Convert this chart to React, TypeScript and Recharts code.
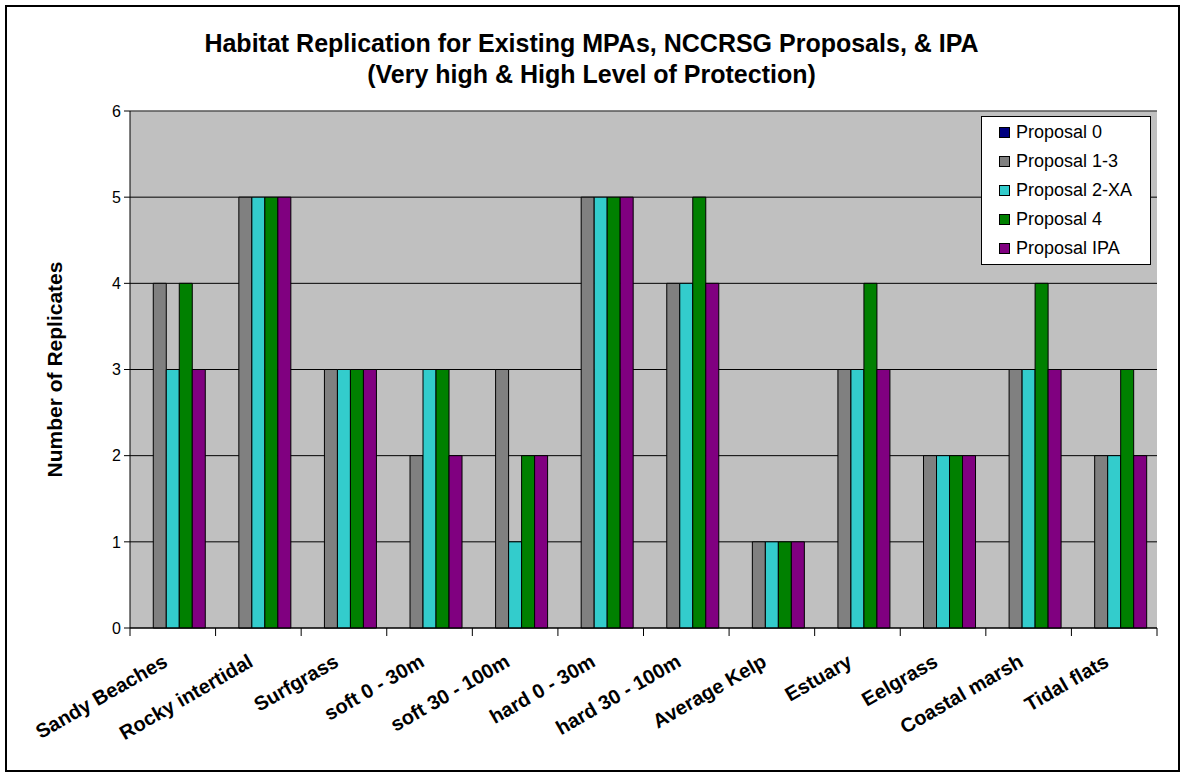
import { BarChart, Bar, XAxis, YAxis, CartesianGrid, Legend, ReferenceLine } from 'recharts'

const CATEGORIES = [
  'Sandy Beaches',
  'Rocky intertidal',
  'Surfgrass',
  'soft 0 - 30m',
  'soft 30 - 100m',
  'hard 0 - 30m',
  'hard 30 - 100m',
  'Average Kelp',
  'Estuary',
  'Eelgrass',
  'Coastal marsh',
  'Tidal flats',
]

const PROPOSAL_0 = [0, 0, 0, 0, 0, 0, 0, 0, 0, 0, 0, 0]
const PROPOSAL_1_3 = [4, 5, 3, 2, 3, 5, 4, 1, 3, 2, 3, 2]
const PROPOSAL_2_XA = [3, 5, 3, 3, 1, 5, 4, 1, 3, 2, 3, 2]
const PROPOSAL_4 = [4, 5, 3, 3, 2, 5, 5, 1, 4, 2, 4, 3]
const PROPOSAL_IPA = [3, 5, 3, 2, 2, 5, 4, 1, 3, 2, 3, 2]

const Y_TICKS = [0, 1, 2, 3, 4, 5, 6]

const SERIES = [
  { key: 'p0', name: 'Proposal 0', color: '#000080', values: PROPOSAL_0 },
  { key: 'p13', name: 'Proposal 1-3', color: '#808080', values: PROPOSAL_1_3 },
  { key: 'p2xa', name: 'Proposal 2-XA', color: '#33CCCC', values: PROPOSAL_2_XA },
  { key: 'p4', name: 'Proposal 4', color: '#008000', values: PROPOSAL_4 },
  { key: 'pipa', name: 'Proposal IPA', color: '#800080', values: PROPOSAL_IPA },
]

const data = CATEGORIES.map((habitat, i) => {
  const row: Record<string, string | number> = { habitat }
  SERIES.forEach((s) => {
    row[s.key] = s.values[i]
  })
  return row
})

const W = 1183
const H = 774
const MARGIN = { top: 111, right: 26, bottom: 116, left: 70 }
const Y_AXIS_W = 60
const PLOT_W = W - MARGIN.left - Y_AXIS_W - MARGIN.right
const BAND = PLOT_W / CATEGORIES.length
const FONT = '"Liberation Sans", Arial, sans-serif'

function HabitatTick(props: any) {
  const { x, y, payload, index } = props
  const half = BAND / 2
  return (
    <g>
      <line x1={x - half} x2={x - half} y1={y - 8} y2={y} stroke="#000" />
      {index === CATEGORIES.length - 1 && (
        <line x1={x + half} x2={x + half} y1={y - 8} y2={y} stroke="#000" />
      )}
      <g transform={`translate(${x - 10},${y + 19}) rotate(-30)`}>
        <text
          x={0}
          y={0}
          dy={12}
          textAnchor="end"
          fontFamily={FONT}
          fontWeight="bold"
          fontSize={20}
          fill="#000"
        >
          {payload.value}
        </text>
      </g>
    </g>
  )
}

function LegendBox() {
  return (
    <div
      style={{
        background: '#fff',
        border: '1px solid #000',
        padding: '1px 0',
        width: 170,
        boxSizing: 'border-box',
        fontFamily: FONT,
        fontSize: 18,
        color: '#000',
      }}
    >
      {SERIES.map((s) => (
        <div
          key={s.key}
          style={{ height: 29, display: 'flex', alignItems: 'center', paddingLeft: 17 }}
        >
          <span
            style={{
              display: 'inline-block',
              width: 11,
              height: 11,
              background: s.color,
              border: '1px solid #000',
              boxSizing: 'border-box',
              marginRight: 6,
            }}
          />
          {s.name}
        </div>
      ))}
    </div>
  )
}

export default function App() {
  return (
    <div style={{ position: 'relative', width: W, height: H, background: '#fff' }}>
      <style>{'body{margin:0}'}</style>
      <div
        style={{
          position: 'absolute',
          left: 5,
          top: 5,
          width: W - 8,
          height: H - 7,
          border: '2px solid #000',
          boxSizing: 'border-box',
        }}
      />
      <div
        style={{
          position: 'absolute',
          left: 0,
          top: 28,
          width: W,
          textAlign: 'center',
          fontFamily: FONT,
          fontWeight: 'bold',
          fontSize: 25,
          lineHeight: '31px',
          color: '#000',
        }}
      >
        Habitat Replication for Existing MPAs, NCCRSG Proposals, &amp; IPA
        <br />
        (Very high &amp; High Level of Protection)
      </div>
      <div style={{ position: 'absolute', left: 0, top: 0 }}>
        <BarChart
          width={W}
          height={H}
          data={data}
          margin={MARGIN}
          barCategoryGap="12%"
          barGap={0}
        >
          <CartesianGrid vertical={false} stroke="#000" fill="#C0C0C0" fillOpacity={1} />
          <ReferenceLine y={6} stroke="#808080" />
          <XAxis
            dataKey="habitat"
            interval={0}
            tickLine={false}
            tickSize={8}
            tickMargin={0}
            axisLine={{ stroke: '#000' }}
            tick={<HabitatTick />}
          />
          <YAxis
            width={Y_AXIS_W}
            domain={[0, 6]}
            ticks={Y_TICKS}
            interval={0}
            tickSize={6}
            tickMargin={3}
            axisLine={{ stroke: '#000' }}
            tickLine={{ stroke: '#000' }}
            tick={{ fill: '#000', fontSize: 16, fontFamily: FONT }}
            label={({ viewBox }: any) => (
              <text
                x={viewBox.x - 16}
                y={viewBox.y + viewBox.height / 2}
                transform={`rotate(-90 ${viewBox.x - 16} ${viewBox.y + viewBox.height / 2})`}
                textAnchor="middle"
                dominantBaseline="central"
                fontFamily={FONT}
                fontWeight="bold"
                fontSize={21}
                fill="#000"
              >
                Number of Replicates
              </text>
            )}
          />
          <YAxis
            yAxisId="right"
            orientation="right"
            width={0}
            tick={false}
            tickLine={false}
            axisLine={{ stroke: '#808080' }}
          />
          <Legend
            layout="vertical"
            align="center"
            verticalAlign="middle"
            wrapperStyle={{ left: 981, top: 116, width: 170 }}
            content={() => <LegendBox />}
          />
          {SERIES.map((s) => (
            <Bar
              key={s.key}
              dataKey={s.key}
              name={s.name}
              fill={s.color}
              stroke="#000"
              strokeWidth={1}
              isAnimationActive={false}
            />
          ))}
        </BarChart>
      </div>
    </div>
  )
}
